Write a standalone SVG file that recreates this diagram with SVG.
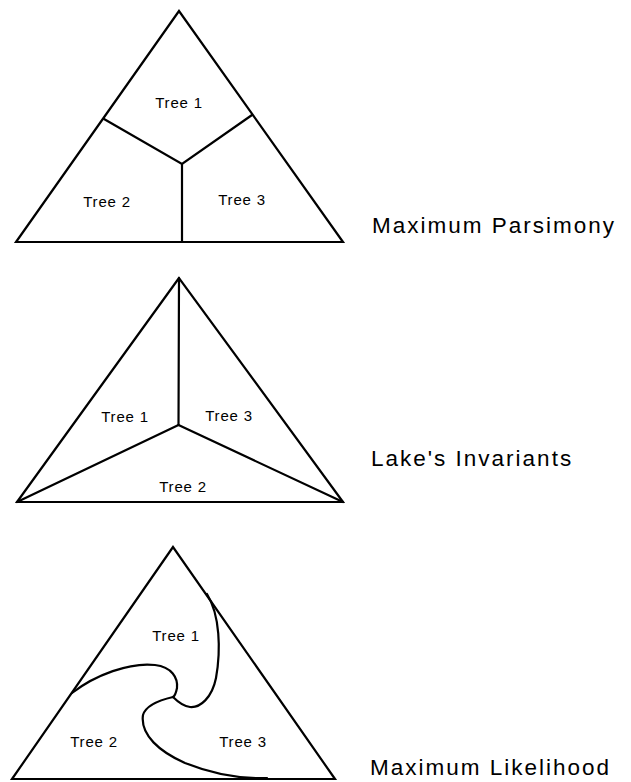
<svg xmlns="http://www.w3.org/2000/svg" width="631" height="782" viewBox="0 0 631 782">
<style>
.edge{fill:none;stroke:#000;stroke-width:2.2;stroke-linejoin:miter;stroke-linecap:round}
.lbl{font-family:"Liberation Sans",Arial,sans-serif;font-size:15px;letter-spacing:0.8px;fill:#000;text-anchor:middle}
.ttl{font-family:"Liberation Sans",Arial,sans-serif;font-size:22.5px;letter-spacing:2px;fill:#000}
</style>
<rect width="631" height="782" fill="#fff"/>
<g id="mp">
<polygon class="edge" points="179,11 16,242 343,242"/>
<g id="connectors-mp">
<polyline class="edge" points="104,119 182,164 252,115"/>
<line class="edge" x1="182" y1="164" x2="182" y2="242"/>
</g>
<text class="lbl" x="179" y="108">Tree 1</text>
<text class="lbl" x="107" y="207">Tree 2</text>
<text class="lbl" x="242" y="205">Tree 3</text>
<text class="ttl" x="372" y="233">Maximum Parsimony</text>
</g>
<g id="li">
<polygon class="edge" points="179,278 17,502 343,502"/>
<g id="connectors-li">
<line class="edge" x1="179" y1="278" x2="178.5" y2="425"/>
<line class="edge" x1="17" y1="502" x2="178.5" y2="425"/>
<line class="edge" x1="343" y1="502" x2="178.5" y2="425"/>
</g>
<text class="lbl" x="125" y="422">Tree 1</text>
<text class="lbl" x="229" y="421">Tree 3</text>
<text class="lbl" x="183" y="492">Tree 2</text>
<text class="ttl" x="371" y="466">Lake's Invariants</text>
</g>
<g id="ml">
<polygon class="edge" points="173,547 12,779 335,779"/>
<g id="connectors-ml">
<path class="edge" d="M207,594 C220,615 221,650 216,678 C212,698 200,708 190,707 C182,706 177,701 173,697"/>
<path class="edge" d="M72,693 C95,675 130,662 155,665 C172,667 178,678 177,688 C176,693 175,696 173,697"/>
<path class="edge" d="M173,697 C160,700 146,705 143,715 C140,735 160,752 185,763 C210,773 240,779 267,778"/>
</g>
<text class="lbl" x="176" y="641">Tree 1</text>
<text class="lbl" x="94" y="747">Tree 2</text>
<text class="lbl" x="243" y="747">Tree 3</text>
<text class="ttl" x="370" y="775">Maximum Likelihood</text>
</g>
</svg>
